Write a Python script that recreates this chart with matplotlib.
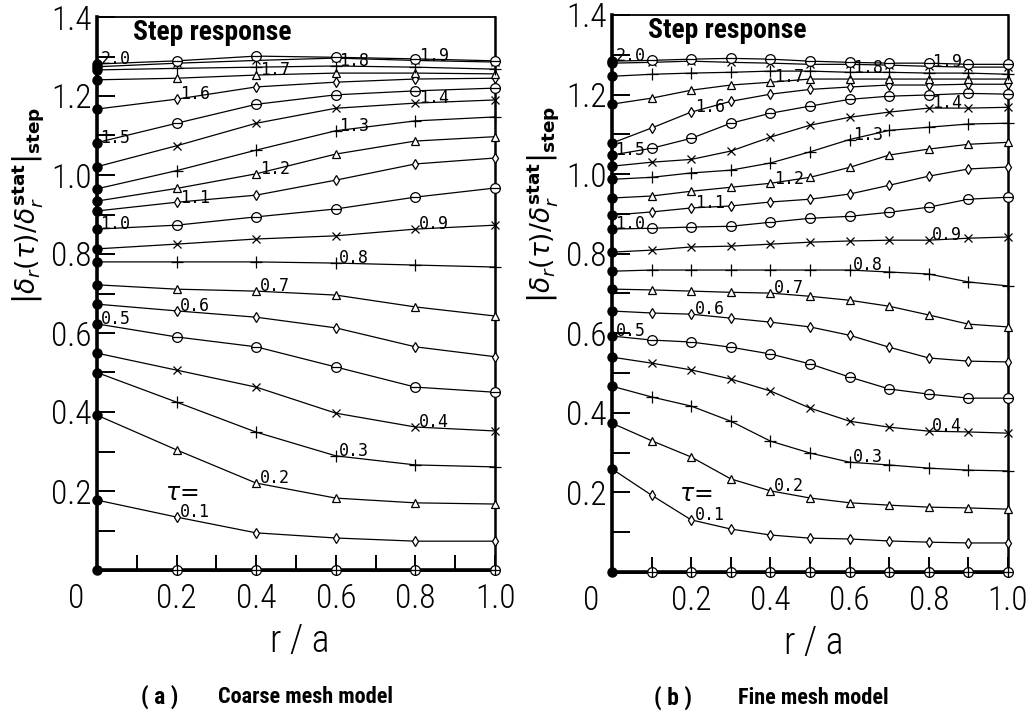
import matplotlib
matplotlib.use("Agg")
import matplotlib.pyplot as plt
import matplotlib.ticker as mticker
import matplotlib.transforms as mtransforms
from matplotlib.path import Path
import numpy as np


TAU = [0.1, 0.2, 0.3, 0.4, 0.5, 0.6, 0.7, 0.8, 0.9, 1.0,
       1.1, 1.2, 1.3, 1.4, 1.5, 1.6, 1.7, 1.8, 1.9, 2.0]

R_COARSE = [0.0, 0.2, 0.4, 0.6, 0.8, 1.0]
R_FINE = [0.0, 0.1, 0.2, 0.3, 0.4, 0.5, 0.6, 0.7, 0.8, 0.9, 1.0]

# tau = 0 (initial state)
ZERO_COARSE = [0.0, 0.0, 0.0, 0.0, 0.0, 0.0]
ZERO_FINE = [0.0, 0.0, 0.0, 0.0, 0.0, 0.0, 0.0, 0.0, 0.0, 0.0, 0.0]

# |delta(tau)/delta_stat| for each tau (rows) at R_COARSE
COARSE = [
    [0.177, 0.134, 0.094, 0.081, 0.073, 0.073],
    [0.392, 0.304, 0.220, 0.182, 0.170, 0.167],
    [0.500, 0.425, 0.349, 0.289, 0.266, 0.261],
    [0.549, 0.506, 0.463, 0.397, 0.362, 0.352],
    [0.623, 0.590, 0.565, 0.514, 0.463, 0.450],
    [0.673, 0.656, 0.640, 0.613, 0.565, 0.540],
    [0.722, 0.711, 0.706, 0.696, 0.666, 0.643],
    [0.780, 0.780, 0.780, 0.777, 0.772, 0.767],
    [0.813, 0.825, 0.838, 0.846, 0.863, 0.873],
    [0.863, 0.873, 0.894, 0.914, 0.944, 0.967],
    [0.909, 0.931, 0.949, 0.987, 1.028, 1.043],
    [0.934, 0.966, 1.003, 1.053, 1.086, 1.097],
    [0.965, 1.011, 1.063, 1.112, 1.137, 1.147],
    [1.021, 1.074, 1.131, 1.169, 1.182, 1.190],
    [1.082, 1.131, 1.179, 1.203, 1.213, 1.220],
    [1.167, 1.192, 1.223, 1.235, 1.243, 1.245],
    [1.241, 1.245, 1.253, 1.258, 1.258, 1.256],
    [1.266, 1.270, 1.273, 1.276, 1.273, 1.268],
    [1.274, 1.283, 1.290, 1.296, 1.290, 1.286],
    [1.281, 1.289, 1.301, 1.298, 1.294, 1.289],
]

# same for R_FINE
FINE = [
    [0.259, 0.193, 0.131, 0.108, 0.093, 0.085, 0.083, 0.078, 0.075, 0.073, 0.073],
    [0.374, 0.330, 0.289, 0.234, 0.204, 0.186, 0.174, 0.168, 0.163, 0.161, 0.158],
    [0.467, 0.440, 0.417, 0.379, 0.329, 0.299, 0.276, 0.269, 0.261, 0.256, 0.254],
    [0.540, 0.525, 0.508, 0.485, 0.455, 0.412, 0.379, 0.364, 0.354, 0.352, 0.349],
    [0.593, 0.583, 0.578, 0.565, 0.548, 0.523, 0.490, 0.460, 0.447, 0.437, 0.437],
    [0.656, 0.651, 0.648, 0.638, 0.628, 0.616, 0.595, 0.565, 0.538, 0.530, 0.528],
    [0.711, 0.709, 0.706, 0.703, 0.701, 0.693, 0.683, 0.668, 0.646, 0.623, 0.616],
    [0.756, 0.759, 0.759, 0.759, 0.759, 0.759, 0.759, 0.754, 0.749, 0.729, 0.719],
    [0.804, 0.809, 0.817, 0.819, 0.824, 0.829, 0.832, 0.834, 0.834, 0.839, 0.842],
    [0.862, 0.864, 0.867, 0.869, 0.879, 0.889, 0.894, 0.904, 0.917, 0.937, 0.942],
    [0.897, 0.905, 0.915, 0.920, 0.930, 0.937, 0.950, 0.972, 0.995, 1.013, 1.018],
    [0.940, 0.945, 0.957, 0.967, 0.977, 0.992, 1.017, 1.048, 1.063, 1.075, 1.080],
    [0.987, 0.992, 1.003, 1.010, 1.028, 1.056, 1.087, 1.110, 1.118, 1.126, 1.128],
    [1.020, 1.030, 1.037, 1.058, 1.093, 1.123, 1.143, 1.156, 1.166, 1.166, 1.168],
    [1.048, 1.065, 1.090, 1.128, 1.153, 1.171, 1.188, 1.196, 1.199, 1.203, 1.201],
    [1.078, 1.116, 1.156, 1.183, 1.201, 1.213, 1.219, 1.224, 1.224, 1.226, 1.226],
    [1.176, 1.191, 1.211, 1.224, 1.231, 1.239, 1.239, 1.239, 1.239, 1.239, 1.239],
    [1.246, 1.251, 1.254, 1.256, 1.259, 1.259, 1.256, 1.256, 1.254, 1.254, 1.251],
    [1.279, 1.281, 1.284, 1.281, 1.279, 1.276, 1.276, 1.274, 1.271, 1.269, 1.269],
    [1.284, 1.286, 1.289, 1.291, 1.289, 1.284, 1.281, 1.279, 1.279, 1.276, 1.276],
]

X_TICKS = [0.0, 0.2, 0.4, 0.6, 0.8, 1.0]
X_TICKLABELS = ["0", "0.2", "0.4", "0.6", "0.8", "1.0"]
Y_TICKS = [0.2, 0.4, 0.6, 0.8, 1.0, 1.2, 1.4]
Y_TICKLABELS = ["0.2", "0.4", "0.6", "0.8", "1.0", "1.2", "1.4"]

NARROW = ["Roboto Condensed", "DejaVu Sans"]
YLABEL = (r"$\left|\delta_r(\tau)/\delta_r^{\mathbf{stat}}\right|"
          r"_{\mathbf{step}}$")


def circle_with(*segments):
    paths = [Path.unit_circle()]
    paths += [Path(seg, [Path.MOVETO, Path.LINETO]) for seg in segments]
    return Path.make_compound_path(*paths)


THETA = circle_with([(-1, 0), (1, 0)])
OPLUS = circle_with([(-1, 0), (1, 0)], [(0, -1), (0, 1)])

# marker cycle: tau = 0.1, 0.2, 0.3, 0.4, 0.5, then repeat
MARKERS = [("d", 5), ("^", 6), ("+", 8), ("x", 6), (THETA, 7)]


def draw_panel(fig, rect, r, rows, zero_row):
    ax = fig.add_axes(rect)
    ax.set_xlim(0, 1.0)
    ax.set_ylim(0, 1.4)

    for tau, vals in zip(TAU, rows):
        k = int(round(tau * 10))
        marker, ms = MARKERS[(k - 1) % 5]
        ax.plot(r, vals, color="black", lw=0.9, marker=marker, ms=ms,
                mfc="white", mec="black", mew=0.9,
                markevery=slice(1, None), clip_on=False, zorder=3)
        ax.plot(r[0], vals[0], "o", color="black", ms=6.5,
                clip_on=False, zorder=4)

        # curve label sits at r = 0.2, 0.4, 0.6, 0.8, 0 in turn
        i = int(np.argmin(np.abs(np.array(r) - (k % 5) * 0.2)))
        ax.annotate(f"{tau:.1f}", (r[i], vals[i] + 0.012),
                    xytext=(2.5, 0), textcoords="offset points",
                    ha="left", va="center", fontsize=12,
                    family="DejaVu Sans Mono", zorder=5)

    ax.plot(r, zero_row, color="black", lw=2, marker=OPLUS, ms=7,
            mfc="white", mec="black", mew=0.9, markevery=slice(1, None),
            clip_on=False, zorder=3)
    ax.plot(r[0], zero_row[0], "o", color="black", ms=6.5,
            clip_on=False, zorder=4)

    ax.xaxis.set_major_locator(mticker.FixedLocator(X_TICKS))
    ax.xaxis.set_minor_locator(mticker.MultipleLocator(0.1))
    ax.set_xticklabels(X_TICKLABELS)
    ax.yaxis.set_major_locator(mticker.FixedLocator(Y_TICKS))
    ax.yaxis.set_minor_locator(mticker.MultipleLocator(0.1))
    ax.set_yticklabels(Y_TICKLABELS)

    ax.tick_params(axis="both", which="both", direction="in",
                   color="black", width=1.4)
    ax.tick_params(axis="x", which="both", length=11, pad=9)
    ax.tick_params(axis="y", which="both", length=13, pad=4)
    for label in ax.get_xticklabels() + ax.get_yticklabels():
        label.set_fontfamily(NARROW)
        label.set_fontweight(300)
        label.set_fontsize(24)

    shift = mtransforms.ScaledTranslation(-0.21, 0, fig.dpi_scale_trans)
    first = ax.get_xticklabels()[0]
    first.set_transform(first.get_transform() + shift)

    ax.spines["left"].set_linewidth(2.6)
    ax.spines["bottom"].set_linewidth(2.6)
    ax.spines["top"].set_linewidth(1.3)
    ax.spines["right"].set_linewidth(1.8)

    ax.text(0.09, 0.972, "Step response", transform=ax.transAxes,
            ha="left", va="center", fontsize=20, fontweight="bold",
            family=NARROW)
    ax.text(0.17, 0.195, r"$\tau$=", ha="left", va="center", fontsize=17)
    ax.text(-0.172, 0.66, YLABEL, transform=ax.transAxes, rotation=90,
            ha="center", va="center", fontsize=19)
    ax.text(0.51, -0.128, "r / a", transform=ax.transAxes,
            ha="center", va="center", fontsize=27, fontweight=300,
            family=NARROW)
    return ax


fig = plt.figure(figsize=(10.29, 7.12), dpi=100)
W, H = 1029, 712

draw_panel(fig, [97 / W, 1 - 570 / H, 398 / W, 553 / H],
           R_COARSE, COARSE, ZERO_COARSE)
draw_panel(fig, [612 / W, 1 - 572 / H, 396 / W, 557 / H],
           R_FINE, FINE, ZERO_FINE)

fig.text(160 / W, 1 - 697 / H, "( a )", ha="center", va="center",
         fontsize=17, fontweight="bold", family=NARROW)
fig.text(218 / W, 1 - 697 / H, "Coarse mesh model", ha="left",
         va="center", fontsize=16, fontweight="bold", family=NARROW)
fig.text(673 / W, 1 - 698 / H, "( b )", ha="center", va="center",
         fontsize=17, fontweight="bold", family=NARROW)
fig.text(738 / W, 1 - 698 / H, "Fine mesh model", ha="left",
         va="center", fontsize=16, fontweight="bold", family=NARROW)

fig.savefig("out.png", dpi=100)
